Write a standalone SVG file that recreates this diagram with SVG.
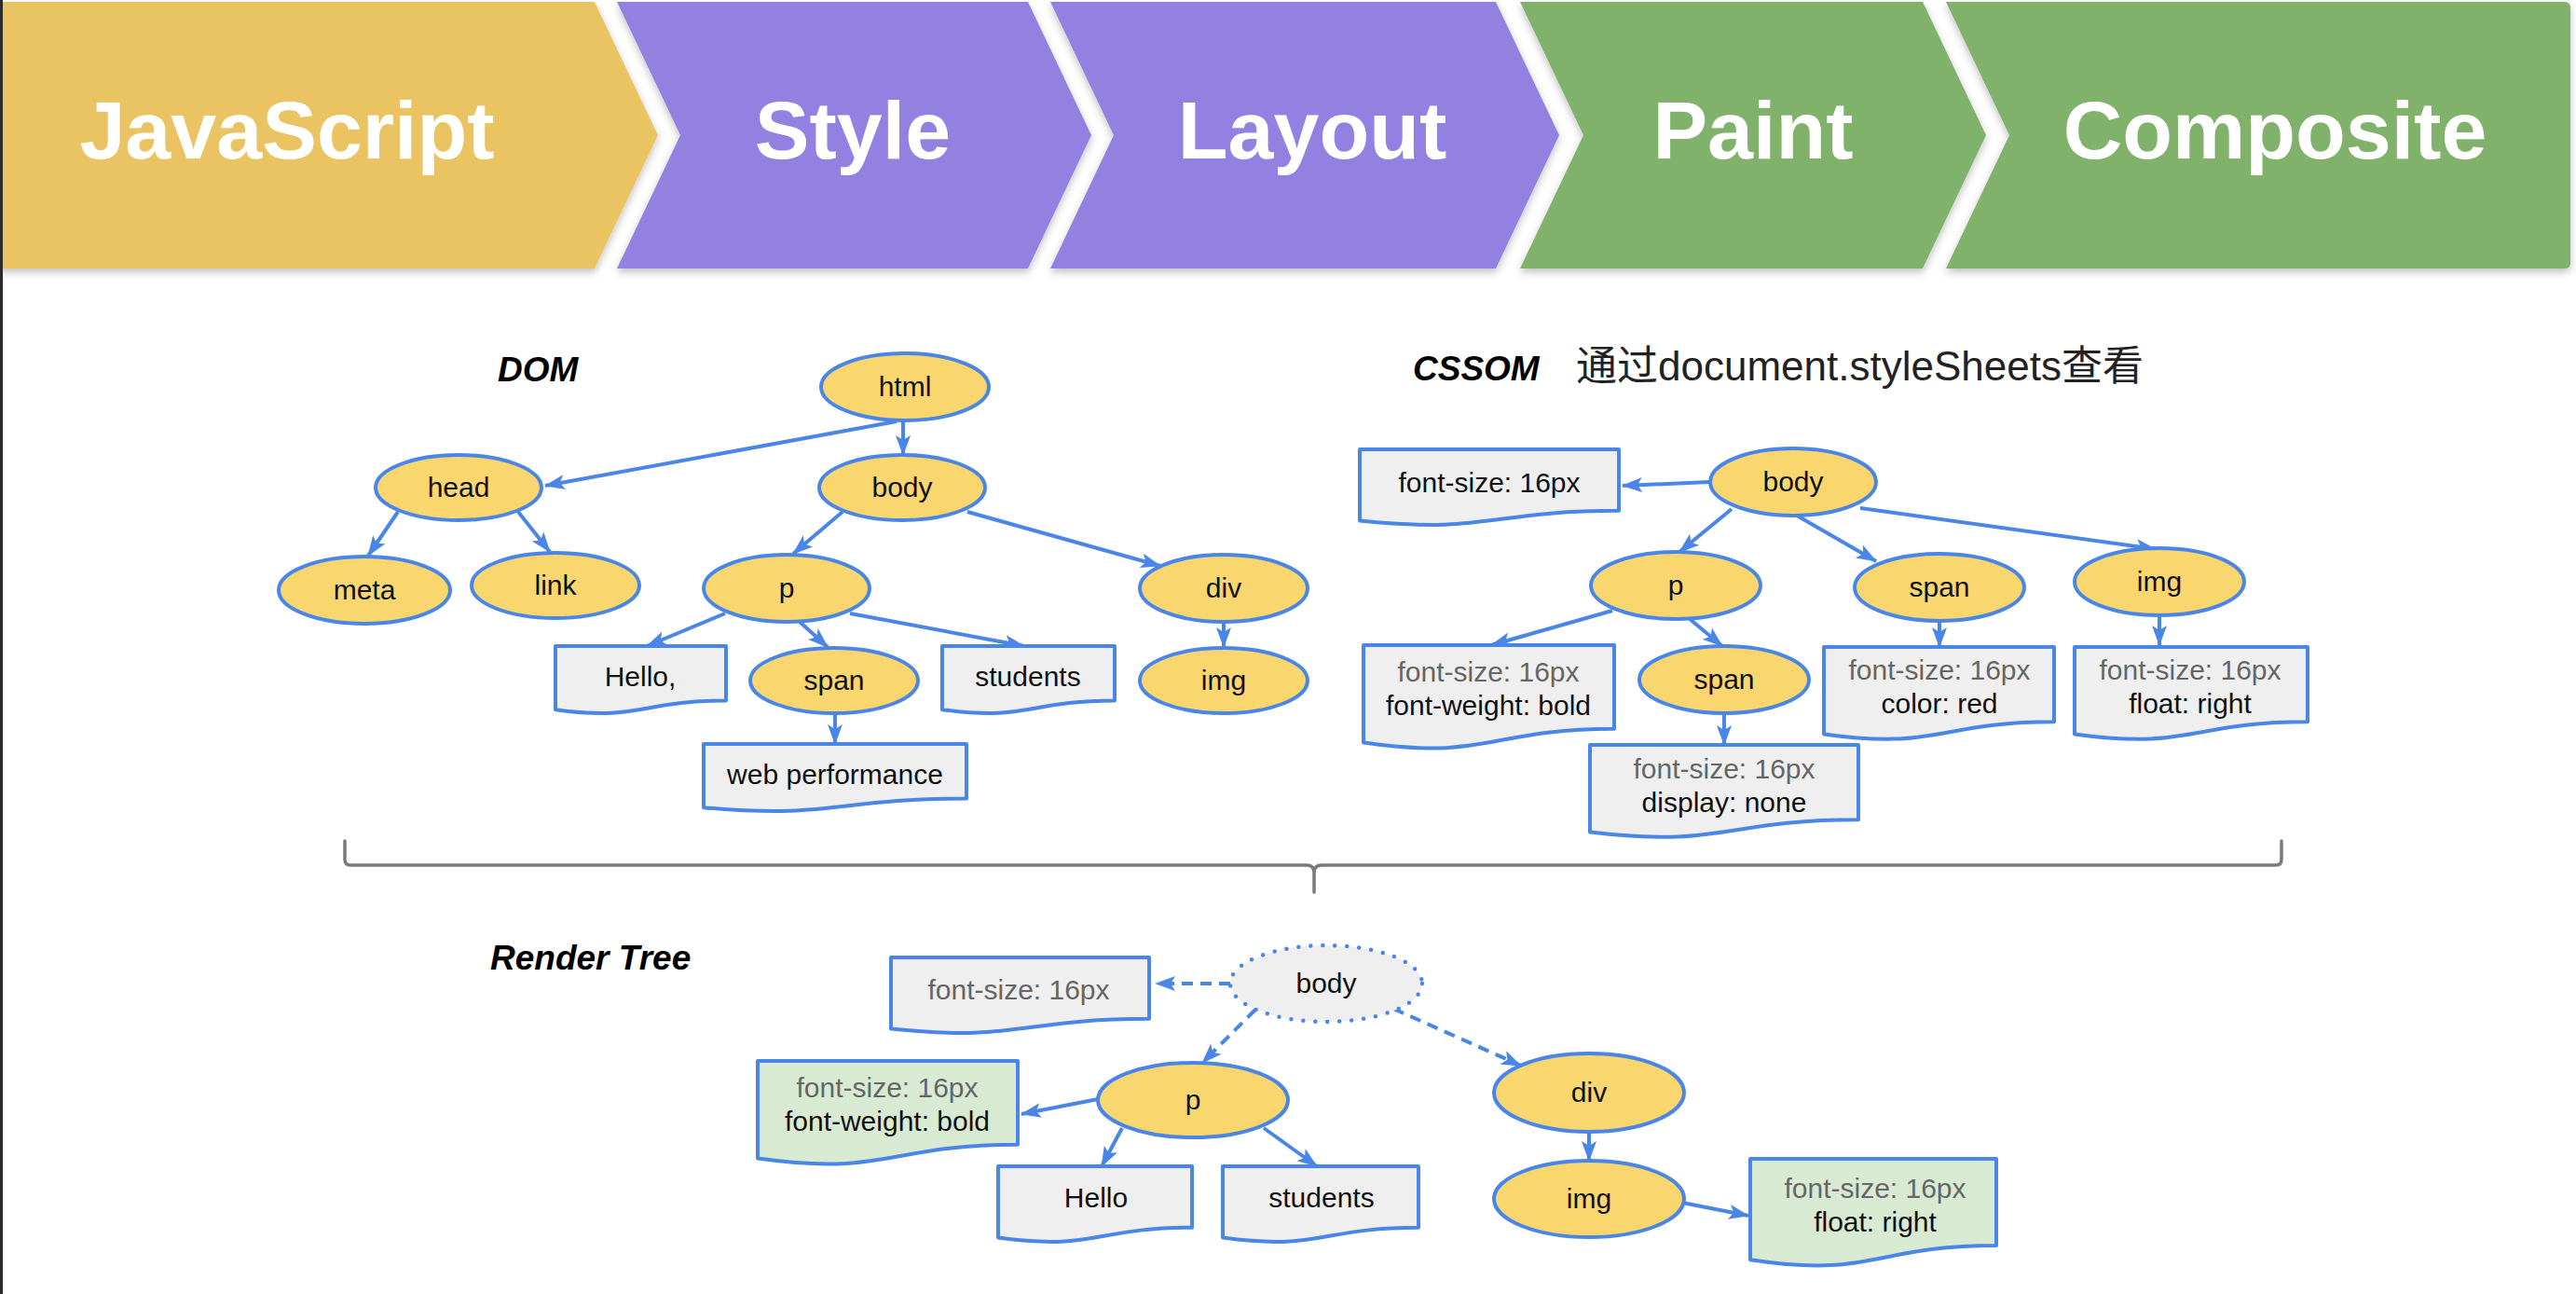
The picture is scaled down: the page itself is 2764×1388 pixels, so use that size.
<svg xmlns="http://www.w3.org/2000/svg" width="2764" height="1388" viewBox="0 0 2764 1388">
<style>
.bn text{font-family:"Liberation Sans",Arial,sans-serif;font-weight:bold;font-size:88px;fill:#fff;text-anchor:middle}
.el{fill:#F9D66E;stroke:#4A86E8;stroke-width:4}
.doc{fill:#EFEFEF;stroke:#4A86E8;stroke-width:4;stroke-linejoin:round}
.docg{fill:#D9EAD3;stroke:#4A86E8;stroke-width:4;stroke-linejoin:round}
.t{font-family:"Liberation Sans",Arial,sans-serif;font-size:30px;fill:#111;text-anchor:middle}
.g{fill:#666}
.title{font-family:"Liberation Sans",Arial,sans-serif;font-size:37px;font-weight:bold;font-style:italic;fill:#000}
.c{fill:none;stroke:#4A86E8;stroke-width:4;marker-end:url(#ah)}
.d{stroke-dasharray:12 8}
</style>
<defs>
<marker id="ah" markerUnits="userSpaceOnUse" markerWidth="24" markerHeight="20" refX="21" refY="9" orient="auto"><path d="M0,1 L22,9 L0,17 L5,9 Z" fill="#4A86E8"/></marker>
<filter id="sh" x="-5%" y="-10%" width="110%" height="130%"><feDropShadow dx="0" dy="4" stdDeviation="4" flood-color="#000" flood-opacity="0.25"/></filter>
</defs>
<rect x="0" y="0" width="2764" height="1388" fill="#fff"/>
<g id="banner" class="bn" filter="url(#sh)">
<g id="js"><path d="M0,2 H638 L706,145 L638,288 H0 Z" fill="#EAC463"/><text x="308" y="170">JavaScript</text></g>
<g id="style"><path d="M662,2 H1103 L1171,145 L1103,288 H662 L730,145 Z" fill="#9381E2"/><text x="915" y="170">Style</text></g>
<g id="layout"><path d="M1127,2 H1605 L1673,145 L1605,288 H1127 L1195,145 Z" fill="#9381E2"/><text x="1408" y="170">Layout</text></g>
<g id="paint"><path d="M1631,2 H2063 L2131,145 L2063,288 H1631 L1699,145 Z" fill="#80B26C"/><text x="1881" y="170">Paint</text></g>
<g id="composite"><path d="M2088,2 H2752 Q2758,2 2758,8 V282 Q2758,288 2752,288 H2088 L2156,145 Z" fill="#80B26C"/><text x="2441" y="170">Composite</text></g>
</g>
<rect x="0" y="0" width="3" height="1388" fill="#2b2b2b"/>

<g id="labels">
<text class="title" x="534" y="409">DOM</text>
<text class="title" x="1516" y="408">CSSOM</text>
<text x="1691" y="408" font-family="'Liberation Sans','Noto Sans CJK SC',sans-serif" font-size="44" fill="#222">通过document.styleSheets查看</text>
<text class="title" x="526" y="1040">Render Tree</text>
</g>

<g id="connectors">
<line class="c" x1="962" y1="452" x2="585" y2="521"/>
<line class="c" x1="969" y1="452" x2="969" y2="488"/>
<line class="c" x1="427" y1="549" x2="395" y2="596"/>
<line class="c" x1="556" y1="549" x2="590" y2="592"/>
<line class="c" x1="904" y1="549" x2="851" y2="594"/>
<line class="c" x1="1038" y1="549" x2="1245" y2="607"/>
<line class="c" x1="778" y1="658" x2="694" y2="693"/>
<line class="c" x1="858" y1="667" x2="888" y2="694"/>
<line class="c" x1="912" y1="658" x2="1099" y2="693"/>
<line class="c" x1="1313" y1="667" x2="1313" y2="694"/>
<line class="c" x1="896" y1="766" x2="896" y2="798"/>

<line class="c" x1="1834" y1="517" x2="1741" y2="521"/>
<line class="c" x1="1858" y1="546" x2="1802" y2="592"/>
<line class="c" x1="1928" y1="553" x2="2013" y2="602"/>
<line class="c" x1="1996" y1="545" x2="2313" y2="589"/>
<line class="c" x1="1730" y1="655" x2="1600" y2="692"/>
<line class="c" x1="1813" y1="664" x2="1848" y2="693"/>
<line class="c" x1="2081" y1="666" x2="2081" y2="694"/>
<line class="c" x1="2317" y1="660" x2="2317" y2="692"/>
<line class="c" x1="1850" y1="765" x2="1850" y2="799"/>

<line class="c d" x1="1320" y1="1055" x2="1240" y2="1055"/>
<line class="c d" x1="1347" y1="1083" x2="1290" y2="1140"/>
<line class="c d" x1="1495" y1="1082" x2="1632" y2="1143"/>
<line class="c" x1="1178" y1="1179" x2="1096" y2="1195"/>
<line class="c" x1="1204" y1="1210" x2="1182" y2="1251"/>
<line class="c" x1="1356" y1="1210" x2="1413" y2="1251"/>
<line class="c" x1="1705" y1="1214" x2="1705" y2="1245"/>
<line class="c" x1="1805" y1="1290" x2="1876" y2="1304"/>

<path id="brace" d="M370,902 V922 Q370,928 376,928 H1402 Q1410,928 1410,936 V957 M1410,936 Q1410,928 1418,928 H2442 Q2448,928 2448,922 V902" fill="none" stroke="#7a7a7a" stroke-width="3.5" stroke-linecap="round"/>
</g>

<g id="dom">
<g id="dom-html"><ellipse class="el" cx="971" cy="415" rx="90" ry="36"/><text class="t" x="971" y="425">html</text></g>
<g id="dom-head"><ellipse class="el" cx="492" cy="523" rx="89" ry="35"/><text class="t" x="492" y="533">head</text></g>
<g id="dom-body"><ellipse class="el" cx="968" cy="523" rx="89" ry="35"/><text class="t" x="968" y="533">body</text></g>
<g id="dom-meta"><ellipse class="el" cx="391" cy="633" rx="92" ry="36"/><text class="t" x="391" y="643">meta</text></g>
<g id="dom-link"><ellipse class="el" cx="596" cy="628" rx="90" ry="35"/><text class="t" x="596" y="638">link</text></g>
<g id="dom-p"><ellipse class="el" cx="844" cy="631" rx="89" ry="36"/><text class="t" x="844" y="641">p</text></g>
<g id="dom-div"><ellipse class="el" cx="1313" cy="631" rx="90" ry="36"/><text class="t" x="1313" y="641">div</text></g>
<g id="dom-hello"><path class="doc" d="M596,693 H779 V751.5 C687.5,751.5 687.5,773.8 596,761.2 Z"/><text class="t" x="687" y="736">Hello,</text></g>
<g id="dom-span"><ellipse class="el" cx="895" cy="730" rx="90" ry="35"/><text class="t" x="895" y="740">span</text></g>
<g id="dom-students"><path class="doc" d="M1011,693 H1196 V751.5 C1103.5,751.5 1103.5,773.8 1011,761.2 Z"/><text class="t" x="1103" y="736">students</text></g>
<g id="dom-img"><ellipse class="el" cx="1313" cy="730" rx="90" ry="35"/><text class="t" x="1313" y="740">img</text></g>
<g id="dom-web"><path class="doc" d="M755,798 H1037 V856.5 C896,856.5 896,878.8 755,866.2 Z"/><text class="t" x="896" y="841">web performance</text></g>
</g>

<g id="cssom">
<g id="css-fs"><path class="doc" d="M1459,482 H1737 V547.8 C1598,547.8 1598,572.8 1459,558.6 Z"/><text class="t" x="1598" y="528">font-size: 16px</text></g>
<g id="css-body"><ellipse class="el" cx="1924" cy="517" rx="89" ry="36"/><text class="t" x="1924" y="527">body</text></g>
<g id="css-p"><ellipse class="el" cx="1798" cy="628" rx="91" ry="36"/><text class="t" x="1798" y="638">p</text></g>
<g id="css-span"><ellipse class="el" cx="2081" cy="630" rx="91" ry="36"/><text class="t" x="2081" y="640">span</text></g>
<g id="css-img"><ellipse class="el" cx="2317" cy="624" rx="91" ry="36"/><text class="t" x="2317" y="634">img</text></g>
<g id="css-fw"><path class="doc" d="M1463,692 H1732 V781.8 C1597.5,781.8 1597.5,816 1463,796.6 Z"/><text class="t g" x="1597" y="731">font-size: 16px</text><text class="t" x="1597" y="767">font-weight: bold</text></g>
<g id="css-span2"><ellipse class="el" cx="1850" cy="729" rx="91" ry="36"/><text class="t" x="1850" y="739">span</text></g>
<g id="css-color"><path class="doc" d="M1957,694 H2204 V774.2 C2080.5,774.2 2080.5,804.75 1957,787.4 Z"/><text class="t g" x="2081" y="729">font-size: 16px</text><text class="t" x="2081" y="765">color: red</text></g>
<g id="css-float"><path class="doc" d="M2226,694 H2476 V774.2 C2351,774.2 2351,804.75 2226,787.4 Z"/><text class="t g" x="2350" y="729">font-size: 16px</text><text class="t" x="2350" y="765">float: right</text></g>
<g id="css-none"><path class="doc" d="M1706,799 H1994 V879.2 C1850,879.2 1850,909.75 1706,892.4 Z"/><text class="t g" x="1850" y="835">font-size: 16px</text><text class="t" x="1850" y="871">display: none</text></g>
</g>

<g id="render">
<g id="r-fs"><path class="doc" d="M956,1027 H1233 V1092.8 C1094.5,1092.8 1094.5,1117.8 956,1103.6 Z"/><text class="t g" x="1093" y="1072">font-size: 16px</text></g>
<g id="r-body"><ellipse cx="1423" cy="1055" rx="103" ry="41" fill="#EFEFEF" stroke="#4A86E8" stroke-width="4.5" stroke-dasharray="0 13" stroke-linecap="round"/><text class="t" x="1423" y="1065">body</text></g>
<g id="r-p"><ellipse class="el" cx="1280" cy="1180" rx="102" ry="40"/><text class="t" x="1280" y="1190">p</text></g>
<g id="r-div"><ellipse class="el" cx="1705" cy="1172" rx="102" ry="42"/><text class="t" x="1705" y="1182">div</text></g>
<g id="r-fw"><path class="docg" d="M813,1138 H1092 V1227.8 C952.5,1227.8 952.5,1262 813,1242.6 Z"/><text class="t g" x="952" y="1177">font-size: 16px</text><text class="t" x="952" y="1213">font-weight: bold</text></g>
<g id="r-hello"><path class="doc" d="M1071,1251 H1279 V1316.8 C1175,1316.8 1175,1341.8 1071,1327.6 Z"/><text class="t" x="1176" y="1295">Hello</text></g>
<g id="r-students"><path class="doc" d="M1312,1251 H1522 V1316.8 C1417,1316.8 1417,1341.8 1312,1327.6 Z"/><text class="t" x="1418" y="1295">students</text></g>
<g id="r-img"><ellipse class="el" cx="1705" cy="1286" rx="102" ry="41"/><text class="t" x="1705" y="1296">img</text></g>
<g id="r-float"><path class="docg" d="M1878,1243 H2142 V1336 C2010,1336 2010,1371.5 1878,1351.3 Z"/><text class="t g" x="2012" y="1285">font-size: 16px</text><text class="t" x="2012" y="1321">float: right</text></g>
</g>
</svg>
